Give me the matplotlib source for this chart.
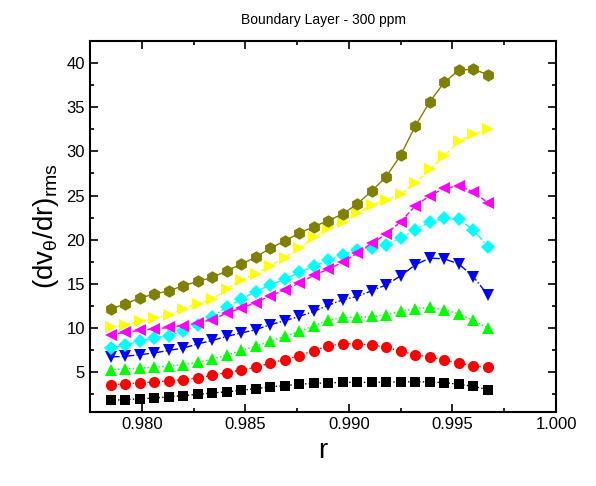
import numpy as np
import matplotlib
matplotlib.use("Agg")
import matplotlib.pyplot as plt
from matplotlib.ticker import MultipleLocator, FormatStrFormatter

plt.rcParams['font.family'] = ['Liberation Sans', 'DejaVu Sans']
plt.rcParams['mathtext.fontset'] = 'custom'
plt.rcParams['mathtext.rm'] = 'Liberation Sans'
plt.rcParams['mathtext.it'] = 'Liberation Sans:italic'

# radial positions
r = [0.9785, 0.9792, 0.9799, 0.9806, 0.9813, 0.9820, 0.9827, 0.9834, 0.9841,
     0.9848, 0.9855, 0.9862, 0.9869, 0.9876, 0.9883, 0.9890, 0.9897, 0.9904,
     0.9911, 0.9918, 0.9925, 0.9932, 0.9939, 0.9946, 0.9953, 0.9960, 0.9967]

# one curve per series
black = [1.84, 1.92, 2.00, 2.11, 2.22, 2.37, 2.51, 2.67, 2.79, 2.97, 3.16, 3.35, 3.50, 3.65,
         3.76, 3.80, 3.87, 3.87, 3.87, 3.91, 3.91, 3.95, 3.91, 3.84, 3.65, 3.42, 3.05]
red = [3.61, 3.69, 3.80, 3.91, 4.03, 4.18, 4.37, 4.66, 4.97, 5.27, 5.56, 6.06, 6.43, 6.89,
       7.47, 7.98, 8.24, 8.22, 8.09, 7.84, 7.38, 7.00, 6.74, 6.40, 6.06, 5.76, 5.56]
green = [5.30, 5.38, 5.49, 5.56, 5.72, 5.87, 6.13, 6.51, 6.93, 7.48, 7.94, 8.54, 9.06, 9.63,
         10.27, 10.90, 11.21, 11.21, 11.32, 11.51, 11.89, 12.19, 12.34, 12.08, 11.63, 10.87, 10.01]
blue = [6.74, 6.81, 7.00, 7.19, 7.48, 7.75, 8.21, 8.61, 9.06, 9.45, 9.82, 10.39, 10.84, 11.32,
        11.89, 12.58, 13.21, 13.58, 14.22, 14.90, 15.92, 17.16, 17.92, 17.84, 17.27, 15.84, 13.77]
cyan = [7.76, 8.13, 8.51, 8.88, 9.15, 9.63, 10.30, 11.30, 12.36, 13.27, 14.14, 14.90, 15.54, 16.30,
        17.00, 17.68, 18.29, 18.85, 19.04, 19.46, 20.17, 21.15, 21.98, 22.43, 22.32, 21.11, 19.23]
magenta = [9.27, 9.52, 9.75, 9.90, 10.08, 10.27, 10.58, 10.95, 11.71, 12.27, 12.87, 13.66, 14.33, 15.09,
           15.97, 16.67, 17.46, 18.48, 19.61, 20.63, 22.05, 23.82, 24.98, 25.82, 26.08, 25.44, 24.19]
yellow = [10.12, 10.39, 10.76, 11.13, 11.51, 12.20, 12.74, 13.25, 14.42, 15.47, 16.11, 17.05, 17.98, 19.04,
          20.29, 21.30, 22.05, 23.00, 23.93, 24.50, 25.14, 26.45, 27.96, 29.47, 31.16, 31.92, 32.48]
olive = [12.16, 12.74, 13.40, 13.85, 14.22, 14.79, 15.28, 15.73, 16.48, 17.24, 18.03, 19.04, 19.87, 20.74,
         21.48, 22.16, 22.92, 24.05, 25.51, 27.13, 29.58, 32.85, 35.60, 37.79, 39.18, 39.29, 38.69]

fig = plt.figure(figsize=(5.96, 4.86), dpi=100)
ax = fig.add_axes([0.151, 0.152, 0.782, 0.764])

# (values, colour, marker, linestyle, markersize)
series = [
    (black, 'black', 's', ':', 7),
    (red, 'red', 'o', ':', 8),
    (green, '#00ff00', '^', ':', 9),
    (blue, 'blue', 'v', '-.', 9),
    (cyan, 'cyan', 'D', '-.', 7),
    (magenta, 'magenta', '<', '--', 9),
    (yellow, 'yellow', '>', '--', 9),
    (olive, '#808000', 'h', '-', 9),
]
for vals, c, m, ls, ms in series:
    ax.plot(r, vals, color=c, marker=m, linestyle=ls, linewidth=1, markersize=ms,
            markeredgewidth=0)

ax.set_xlim(0.9775, 1.000)
ax.set_ylim(0.5, 42.5)
ax.xaxis.set_major_locator(MultipleLocator(0.005))
ax.xaxis.set_minor_locator(MultipleLocator(0.0025))
ax.xaxis.set_major_formatter(FormatStrFormatter('%.3f'))
ax.yaxis.set_major_locator(MultipleLocator(5))
ax.yaxis.set_minor_locator(MultipleLocator(2.5))
ax.tick_params(which='both', direction='in', top=True, right=True, width=1.2, labelsize=12)
ax.tick_params(which='major', length=6)
ax.tick_params(which='minor', length=3)
for s in ax.spines.values():
    s.set_linewidth(1.5)

ax.set_xlabel('r', fontsize=20)
ax.set_ylabel(r'(dv$_{\mathrm{\theta}}$/dr)$_{\mathrm{rms}}$', fontsize=20)
ax.set_title('Boundary Layer - 300 ppm', fontsize=10, pad=12)

fig.savefig('out.png', dpi=100)
